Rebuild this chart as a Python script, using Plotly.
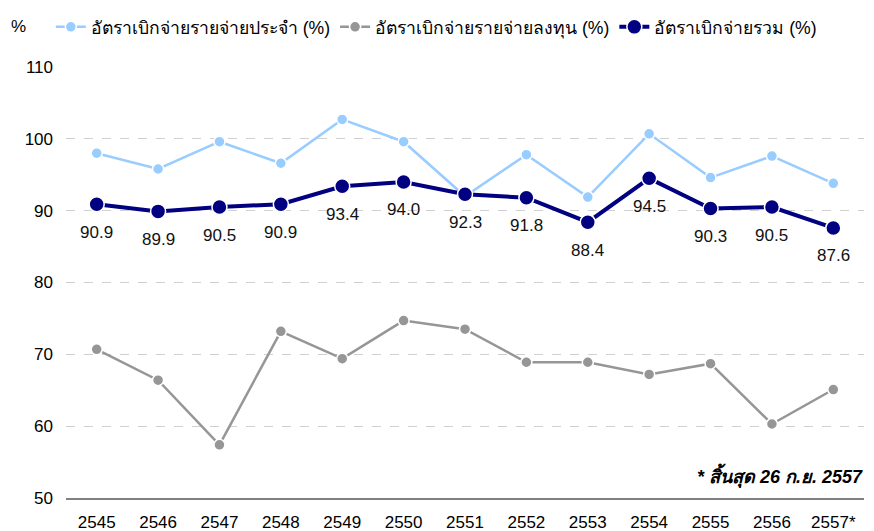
import plotly.graph_objects as go

years = ["2545", "2546", "2547", "2548", "2549", "2550", "2551",
         "2552", "2553", "2554", "2555", "2556", "2557*"]
recurrent = [98.0, 95.8, 99.6, 96.6, 102.7, 99.6, 92.0, 97.8, 91.9, 100.7, 94.6, 97.6, 93.8]
capital = [70.7, 66.4, 57.4, 73.2, 69.4, 74.7, 73.5, 68.9, 68.9, 67.2, 68.7, 60.3, 65.1]
total = [90.9, 89.9, 90.5, 90.9, 93.4, 94.0, 92.3, 91.8, 88.4, 94.5, 90.3, 90.5, 87.6]

names = ["อัตราเบิกจ่ายรายจ่ายประจำ (%)", "อัตราเบิกจ่ายรายจ่ายลงทุน (%)", "อัตราเบิกจ่ายรวม (%)"]
note = "* สิ้นสุด 26 ก.ย. 2557"
y_unit = "%"

FONT = "Liberation Sans, Arial, sans-serif"

fig = go.Figure()
fig.add_trace(go.Scatter(
    x=years, y=recurrent, name=names[0], mode="lines+markers",
    line=dict(color="#99CCFF", width=2.5),
    marker=dict(size=11, color="#99CCFF", line=dict(color="white", width=1.5)),
))
fig.add_trace(go.Scatter(
    x=years, y=capital, name=names[1], mode="lines+markers",
    line=dict(color="#969696", width=2.5),
    marker=dict(size=11, color="#969696", line=dict(color="white", width=1.5)),
))
fig.add_trace(go.Scatter(
    x=years, y=total, name=names[2], mode="lines+markers",
    line=dict(color="#000080", width=4),
    marker=dict(size=15, color="#000080", line=dict(color="white", width=1.5)),
))

for i, yv in enumerate(total):
    fig.add_annotation(x=i, y=yv, text=f"{yv:.1f}", showarrow=False,
                       yshift=-28, font=dict(size=17, color="#111111", family=FONT))

fig.add_annotation(xref="paper", yref="paper", x=1.001, y=0.05, xanchor="right",
                   yanchor="middle",
                   text=f"<b><i>{note}</i></b>", showarrow=False,
                   font=dict(size=18, color="black", family=FONT))
fig.add_annotation(xref="paper", yref="paper", x=-0.0595, y=1.093, xanchor="center",
                   yanchor="middle", text=y_unit, showarrow=False,
                   font=dict(size=17, color="black", family=FONT))

fig.update_layout(
    width=874, height=531,
    margin=dict(l=66, r=10, t=67, b=33, autoexpand=False),
    plot_bgcolor="white", paper_bgcolor="white",
    font=dict(family=FONT, size=17, color="black"),
    showlegend=True,
    legend=dict(orientation="h", x=-0.019, xanchor="left", y=1.093, yanchor="middle",
                font=dict(size=17.6), tracegroupgap=0,
                bgcolor="rgba(0,0,0,0)"),
    xaxis=dict(type="category", range=[-0.5, 12.5], showgrid=False,
               showline=True, linecolor="#808080", linewidth=2,
               ticks="", ticklabelstandoff=8, tickfont=dict(size=17)),
    yaxis=dict(range=[50, 110], dtick=10, showgrid=True, gridcolor="#D0D0D0",
               griddash="dash", gridwidth=1, zeroline=False, showline=False,
               ticks="", ticklabelstandoff=12, tickfont=dict(size=17)),
)

fig.write_html("out.html", config={"displayModeBar": False},
               post_script="document.body.style.margin='0';document.body.style.overflow='hidden';")
